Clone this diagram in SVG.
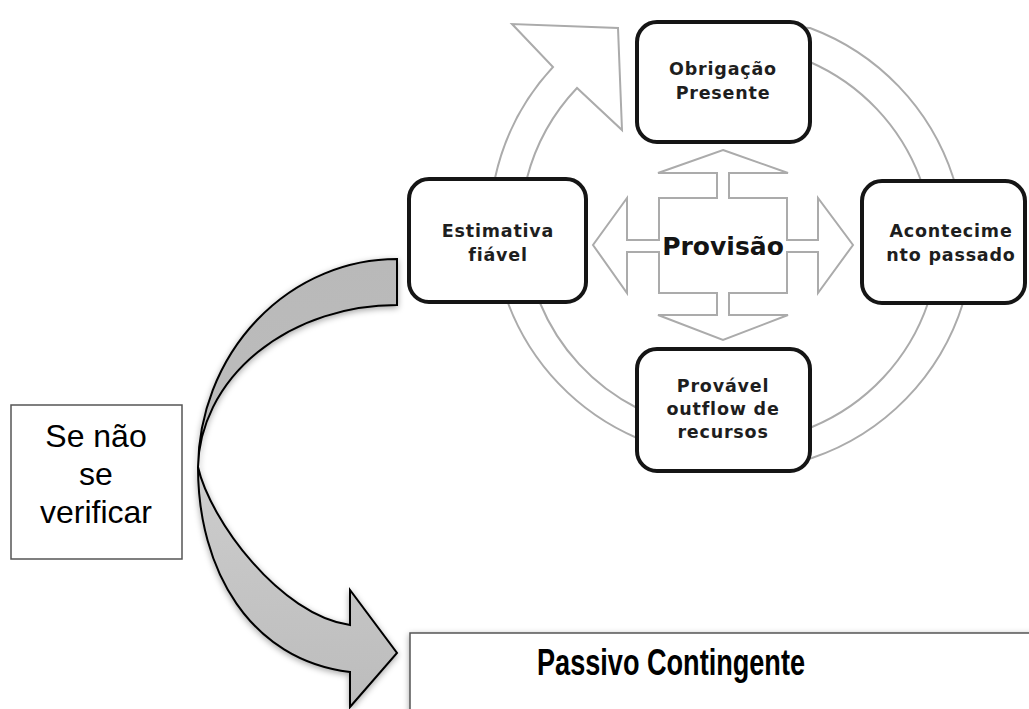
<svg xmlns="http://www.w3.org/2000/svg" width="1029" height="709" viewBox="0 0 1029 709">
  <defs>
    <style>
      .node { fill: #ffffff; stroke: #151515; stroke-width: 4; }
      .ntext { font-family: "DejaVu Sans", Verdana, sans-serif; font-weight: bold; font-size: 17.5px; fill: #1e1e1e; text-anchor: middle; letter-spacing: 0.8px; }
      .outline { fill: #ffffff; stroke: #ababab; stroke-width: 2; stroke-linejoin: miter; }
      .band { stroke: #000000; stroke-width: 2; stroke-linejoin: miter; }
      .plain { fill: #ffffff; stroke: #555555; stroke-width: 1.5; }
      .ptext { font-family: "Liberation Sans", Arial, sans-serif; fill: #000000; text-anchor: middle; }
    </style>
    <linearGradient id="gUpper" x1="0" y1="0" x2="0" y2="1">
      <stop offset="0" stop-color="#b9b9b9"/>
      <stop offset="1" stop-color="#bdbdbd"/>
    </linearGradient>
    <linearGradient id="gLower" x1="0" y1="0" x2="0" y2="1">
      <stop offset="0" stop-color="#cdcdcd"/>
      <stop offset="1" stop-color="#bcbcbc"/>
    </linearGradient>
    <filter id="shadow" x="-20%" y="-20%" width="140%" height="140%">
      <feDropShadow dx="0" dy="2" stdDeviation="3" flood-color="#000000" flood-opacity="0.35"/>
    </filter>
  </defs>

  <rect x="0" y="0" width="1029" height="709" fill="#ffffff"/>

  <g id="connectors">
    <!-- circular ring arrow (tail hidden behind the top node) -->
    <path id="ring" class="outline" d="M 790,27 L 810,28 A 238 238 0 0 1 953,177 A 238 238 0 0 1 963,303 A 238 238 0 0 1 812,458 A 238 238 0 0 1 637,438 A 238 238 0 0 1 508,303 A 238 238 0 0 1 495,178 A 238 238 0 0 1 553,67 L 512,24 L 618,28 L 622,130 L 577,88 A 206 206 0 0 0 527,178 A 206 206 0 0 0 540,303 A 206 206 0 0 0 637,408 A 206 206 0 0 0 812,427 A 206 206 0 0 0 928,303 A 206 206 0 0 0 920,178 A 206 206 0 0 0 810,62 L 790,60 Z"/>
    <!-- four-way cross arrow -->
    <path id="cross" class="outline" d="M 723,150 L 788,173 L 729,173 L 729,198 L 787,198 L 787,240 L 818,240 L 818,198 L 853,245 L 818,293 L 818,252 L 787,252 L 787,293 L 729,293 L 729,315 L 788,315 L 723,340 L 658,315 L 717,315 L 717,293 L 659,293 L 659,252 L 627,252 L 627,293 L 593,245 L 627,198 L 627,240 L 659,240 L 659,198 L 717,198 L 717,173 L 658,173 Z"/>
    <!-- curved gray arrow -->
    <g id="curved-arrow" filter="url(#shadow)">
      <path class="band" fill="url(#gUpper)" d="M 397,259 A 199 211 0 0 0 198,467 A 199 165 0 0 1 397,305 Z"/>
      <path class="band" fill="url(#gLower)" d="M 198,467 C 198,570 250,660 350,672 L 350,707 L 397,653 L 350,590 L 350,625 C 280,615 210,520 198,467 Z"/>
    </g>
  </g>

  <g id="node-obrigacao">
    <rect class="node" x="637" y="22" width="173" height="120" rx="20" ry="20"/>
    <text class="ntext" x="723" y="75">Obrigação</text>
    <text class="ntext" x="723" y="99">Presente</text>
  </g>

  <g id="node-acontecimento">
    <rect class="node" x="862" y="181" width="163" height="122" rx="20" ry="20"/>
    <text class="ntext" x="951" y="237" letter-spacing="1.3">Acontecime</text>
    <text class="ntext" x="951" y="261" letter-spacing="0.3">nto passado</text>
  </g>

  <g id="node-estimativa">
    <rect class="node" x="409" y="179" width="177" height="123" rx="20" ry="20"/>
    <text class="ntext" x="498" y="237">Estimativa</text>
    <text class="ntext" x="498" y="261">fiável</text>
  </g>

  <g id="node-provavel">
    <rect class="node" x="637" y="349" width="173" height="122" rx="20" ry="20"/>
    <text class="ntext" x="723" y="392">Provável</text>
    <text class="ntext" x="723" y="415" letter-spacing="0.5">outflow de</text>
    <text class="ntext" x="723" y="438">recursos</text>
  </g>

  <g id="node-provisao">
    <text x="723" y="255" font-family="DejaVu Sans, Verdana, sans-serif" font-weight="bold" font-size="25" fill="#141414" text-anchor="middle">Provisão</text>
  </g>

  <g id="node-se-nao">
    <rect class="plain" x="11" y="405" width="171" height="154"/>
    <text class="ptext" x="96" y="447" font-size="32">Se não</text>
    <text class="ptext" x="96" y="485" font-size="32">se</text>
    <text class="ptext" x="96" y="523" font-size="32">verificar</text>
  </g>

  <g id="node-passivo">
    <rect class="plain" x="410" y="633" width="640" height="100" filter="url(#shadow)" stroke="#444444"/>
    <text class="ptext" x="671" y="675" font-size="36" font-weight="bold" textLength="268" lengthAdjust="spacingAndGlyphs">Passivo Contingente</text>
  </g>
</svg>
